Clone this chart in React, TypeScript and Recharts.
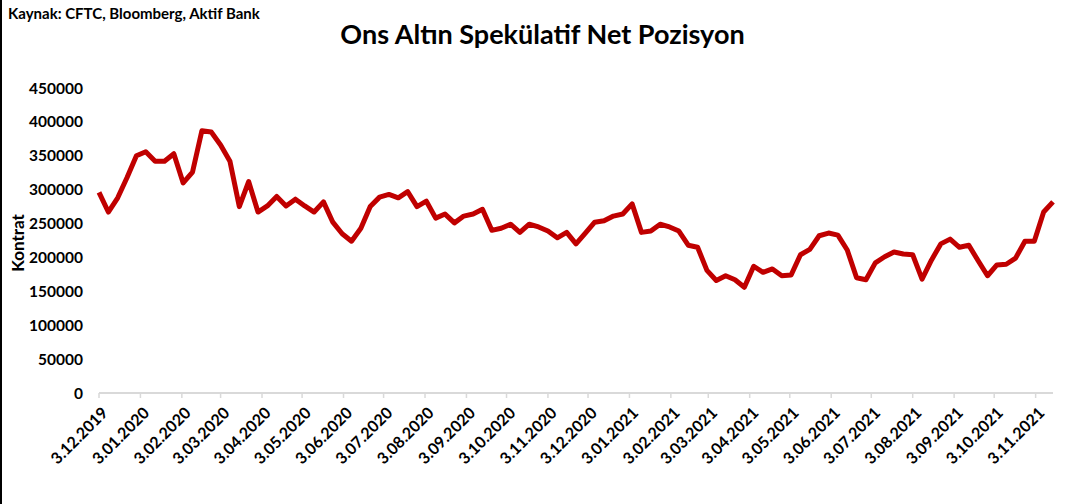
import { LineChart, Line, XAxis, YAxis } from 'recharts';

// weekly CFTC net speculative positions, starting 3.12.2019
const values = [
  296000, 267000, 288000, 318000, 350000, 356000, 342000, 342000, 353000, 310000,
  326000, 387000, 385000, 366000, 342000, 275000, 312000, 267000, 276000, 290000,
  276000, 286000, 276000, 267000, 282000, 252000, 235000, 224000, 243000, 275000,
  289000, 293000, 288000, 297000, 275000, 283000, 258000, 264000, 251000, 261000,
  264000, 271000, 240000, 243000, 249000, 237000, 249000, 245000, 239000, 229000,
  237000, 220000, 236000, 252000, 254000, 261000, 264000, 279000, 237000, 239000,
  249000, 245000, 239000, 218000, 215000, 181000, 166000, 173000, 167000, 156000,
  187000, 178000, 183000, 173000, 174000, 204000, 212000, 232000, 236000, 233000,
  211000, 170000, 167000, 192000, 201000, 208000, 205000, 204000, 168000, 196000,
  220000, 227000, 215000, 218000, 195000, 173000, 189000, 190000, 199000, 224000,
  224000, 267000, 282000,
];

const monthLabels = [
  '3.12.2019', '3.01.2020', '3.02.2020', '3.03.2020', '3.04.2020', '3.05.2020',
  '3.06.2020', '3.07.2020', '3.08.2020', '3.09.2020', '3.10.2020', '3.11.2020',
  '3.12.2020', '3.01.2021', '3.02.2021', '3.03.2021', '3.04.2021', '3.05.2021',
  '3.06.2021', '3.07.2021', '3.08.2021', '3.09.2021', '3.10.2021', '3.11.2021',
];

const yTicks = [0, 50000, 100000, 150000, 200000, 250000, 300000, 350000, 400000, 450000];

const FONT = 'Lato, "Open Sans", sans-serif';
const DAY = 86400000;
const START = Date.UTC(2019, 11, 3);

const toDays = (label: string) => {
  const [d, m, y] = label.split('.').map(Number);
  return Math.round((Date.UTC(y, m - 1, d) - START) / DAY);
};

const tickDays = monthLabels.map(toDays);
const labelByDay: Record<number, string> = {};
monthLabels.forEach((l, i) => (labelByDay[tickDays[i]] = l));

const data = values.map((v, i) => ({ t: i * 7, v }));

const DateTick = (props: any) => {
  const { x, y, payload } = props;
  return (
    <g transform={`translate(${x + 2},${y + 4}) rotate(-45)`}>
      <text textAnchor="end" dy="0.7em" fontFamily={FONT} fontWeight={700} fontSize={16} fill="#000">
        {labelByDay[payload.value]}
      </text>
    </g>
  );
};

export default function App() {
  return (
    <div
      style={{
        position: 'absolute',
        left: 0,
        top: 0,
        width: 1083,
        height: 504,
        background: '#fff',
        borderLeft: '2px solid #000',
        boxSizing: 'border-box',
        fontFamily: FONT,
      }}
    >
      <div style={{ position: 'absolute', left: 6, top: 4, fontSize: 15, fontWeight: 700 }}>
        Kaynak: CFTC, Bloomberg, Aktif Bank
      </div>
      <div
        style={{ position: 'absolute', left: 0, width: 1081, top: 17, textAlign: 'center', fontSize: 27, fontWeight: 700 }}
      >
        Ons Altın Spekülatif Net Pozisyon
      </div>
      <div
        style={{
          position: 'absolute',
          left: 15,
          top: 243,
          transform: 'translate(-50%, -50%) rotate(-90deg)',
          fontSize: 17,
          fontWeight: 700,
          whiteSpace: 'nowrap',
        }}
      >
        Kontrat
      </div>
      <div style={{ position: 'absolute', left: -2, top: 0 }}>
        <LineChart width={1083} height={504} data={data} margin={{ top: 88, right: 30, left: 0, bottom: 11 }}>
          <XAxis
            type="number"
            dataKey="t"
            domain={[0, 714]}
            ticks={tickDays}
            interval={0}
            height={100}
            tick={<DateTick />}
            tickSize={5}
            tickMargin={4}
            axisLine={{ stroke: '#d9d9d9', strokeWidth: 2 }}
            tickLine={{ stroke: '#d9d9d9', strokeWidth: 1.5 }}
          />
          <YAxis
            width={99}
            domain={[0, 450000]}
            ticks={yTicks}
            interval={0}
            axisLine={false}
            tickLine={false}
            tickSize={0}
            tickMargin={16}
            tick={{ fontFamily: FONT, fontWeight: 700, fontSize: 15.5, fill: '#000' }}
          />
          <Line
            type="linear"
            dataKey="v"
            stroke="#c00000"
            strokeWidth={5}
            strokeLinejoin="round"
            dot={false}
            isAnimationActive={false}
          />
        </LineChart>
      </div>
    </div>
  );
}
